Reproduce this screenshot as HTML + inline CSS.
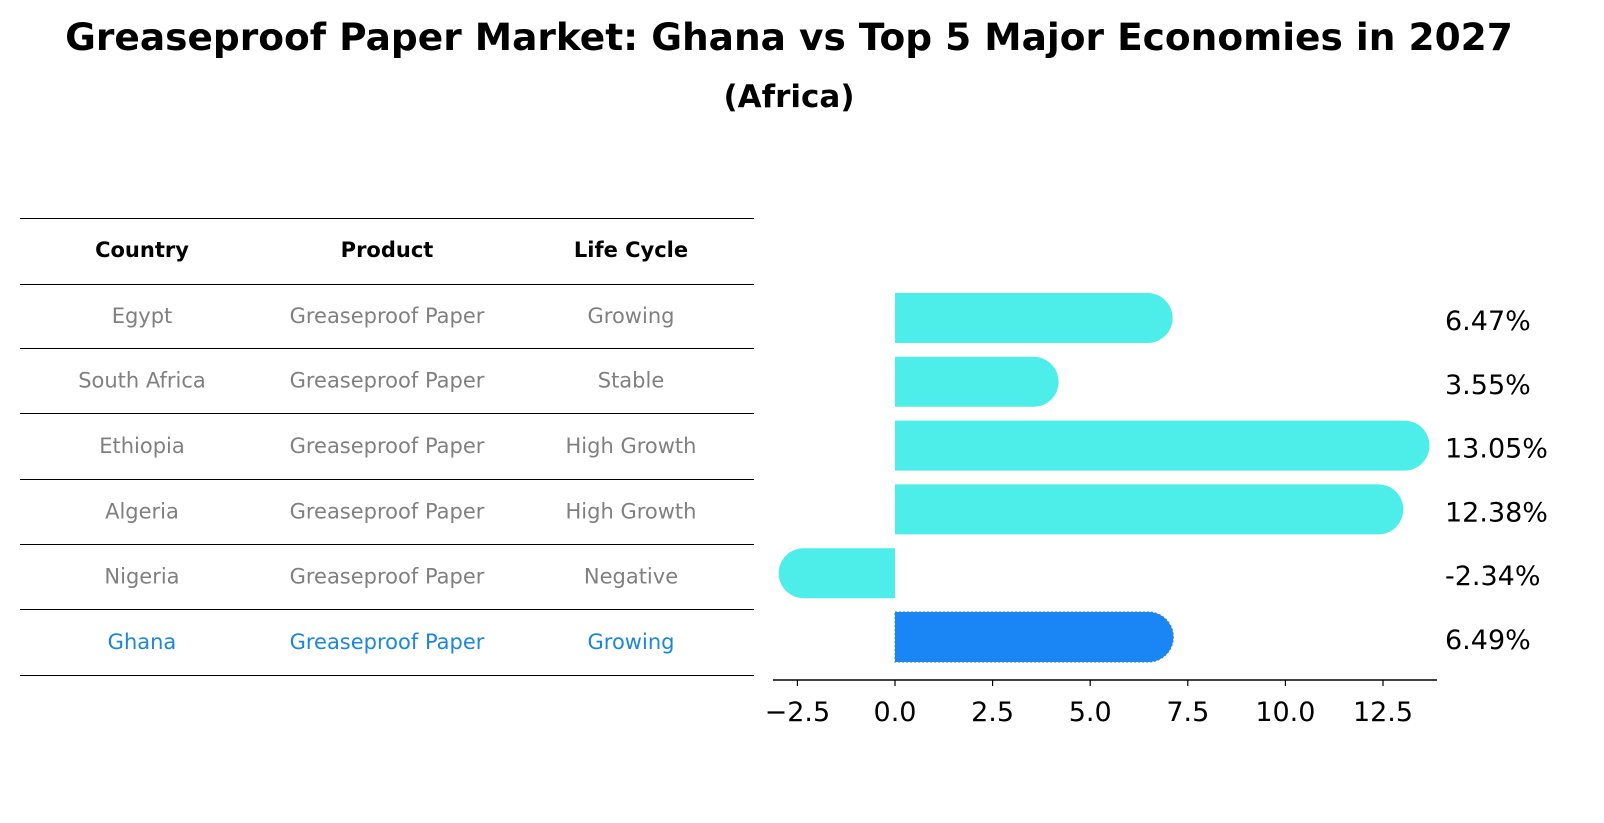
<!DOCTYPE html>
<html><head><meta charset="utf-8"><style>
body{margin:0;width:1604px;height:823px;background:#fff;font-family:"Liberation Sans","DejaVu Sans",sans-serif;position:relative;overflow:hidden}
.t{position:absolute;white-space:nowrap;transform:translate(-50%,-50%)}
</style></head><body>
<div class="t" style="left:789px;top:37px;font-size:37.5px;font-weight:bold;font-family:'DejaVu Sans',sans-serif">Greaseproof Paper Market: Ghana vs Top 5 Major Economies in 2027</div>
<div class="t" style="left:789px;top:97px;font-size:31px;font-weight:bold;font-family:'DejaVu Sans',sans-serif">(Africa)</div>
<svg id="s" width="1604" height="823" style="position:absolute;left:0;top:0" font-family="DejaVu Sans, sans-serif"></svg>
<script>
const countries=["Egypt","South Africa","Ethiopia","Algeria","Nigeria","Ghana"];
const products=["Greaseproof Paper","Greaseproof Paper","Greaseproof Paper","Greaseproof Paper","Greaseproof Paper","Greaseproof Paper"];
const lifeCycles=["Growing","Stable","High Growth","High Growth","Negative","Growing"];
const growth=[6.47,3.55,13.05,12.38,-2.34,6.49];
const ticks=[-2.5,0,2.5,5,7.5,10,12.5];
const s=document.getElementById('s');const NS='http://www.w3.org/2000/svg';
function el(t,a,txt){const e=document.createElementNS(NS,t);for(const k in a)e.setAttribute(k,a[k]);if(txt!=null)e.textContent=txt;s.appendChild(e);return e;}
// table
const rowY=[218,284,348,413,479,544,609,675];
rowY.forEach((y,i)=>{const l=el('line',{x1:20,x2:754,y1:y+0.5,y2:y+0.5,stroke:'#000','stroke-width':1.2,'shape-rendering':'crispEdges'});

});
const colX=[142,387,631];
["Country","Product","Life Cycle"].forEach((h,i)=>{const t=el('text',{x:colX[i],y:257,'text-anchor':'middle','font-size':21,'font-weight':'bold'},h);

});
countries.forEach((c,i)=>{const y=(rowY[i+1]+rowY[i+2])/2+7;const col=i==5?'#1a86e0':'#808080';
[c,products[i],lifeCycles[i]].forEach((v,j)=>{const t=el('text',{x:colX[j],y:y,'text-anchor':'middle','font-size':21,fill:col},v);

});});
// chart
const x0=895,ppu=39.04;const X=v=>x0+v*ppu;
const Y=i=>318+i*63.8;const r=25;
growth.forEach((v,i)=>{const yc=Y(i);const xe=X(v);const dir=v>=0?1:-1;
const d=`M${x0},${yc-r} L${xe},${yc-r} A${r},${r} 0 0 ${dir>0?1:0} ${xe},${yc+r} L${x0},${yc+r} Z`;
const p=el('path',{d:d,fill:i==5?'#1a86f5':'#4deeea'});
if(i==5){p.setAttribute('stroke','#3a7ad0');p.setAttribute('stroke-dasharray','2,2');}


const t=el('text',{x:1445,y:yc+12,'font-size':27},v.toFixed(2)+'%');

});
const ax=el('line',{x1:773,x2:1437,y1:680,y2:680,stroke:'#000','stroke-width':1.5});


ticks.forEach(v=>{el('line',{x1:X(v),x2:X(v),y1:680,y2:686,stroke:'#000','stroke-width':1.2});
const t=el('text',{x:X(v),y:721,'text-anchor':'middle','font-size':27},v.toFixed(1).replace('-','\u2212'));

});
</script>
</body></html>
